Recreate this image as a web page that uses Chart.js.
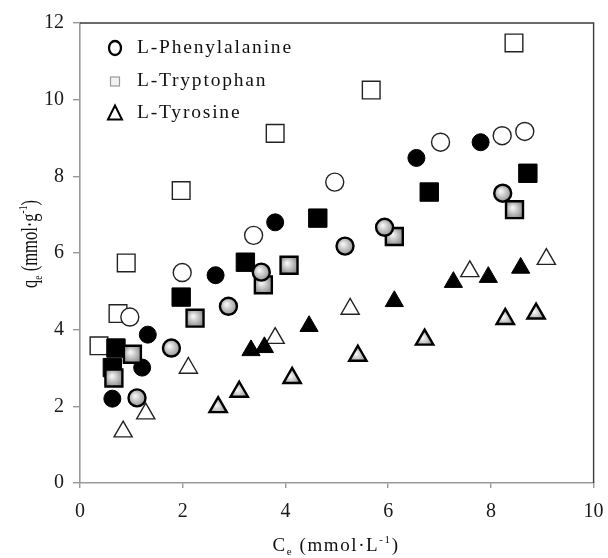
<!DOCTYPE html>
<html lang="en">
<head>
<meta charset="UTF-8">
<title>Amino acid adsorption</title>
<script src="https://cdn.jsdelivr.net/npm/chart.js@4.4.1/dist/chart.umd.min.js"></script>
<style>
  body { margin: 0; background: #fff; }
  canvas { display: block; }
</style>
</head>
<body>
<canvas id="chart" width="608" height="558"></canvas>
<script>
// tick labels
const xTicks = [0, 2, 4, 6, 8, 10];
const yTicks = [0, 2, 4, 6, 8, 10, 12];

// L-Phenylalanine (circles): open, filled, gray
const pheOpenX = [0.97, 1.99, 3.38, 4.96, 7.02, 8.22, 8.66];
const pheOpenY = [4.33, 5.49, 6.46, 7.85, 8.89, 9.06, 9.17];
const pheFilledX = [0.63, 1.21, 1.32, 2.64, 3.80, 6.55, 7.80];
const pheFilledY = [2.20, 3.01, 3.87, 5.42, 6.80, 8.48, 8.89];
const pheGrayX = [1.11, 1.78, 2.89, 3.53, 5.16, 5.93, 8.23];
const pheGrayY = [2.22, 3.52, 4.61, 5.50, 6.18, 6.67, 7.56];

// L-Tryptophan (squares)
const trpOpenX = [0.37, 0.74, 0.90, 1.97, 3.80, 5.67, 8.45];
const trpOpenY = [3.58, 4.42, 5.74, 7.63, 9.12, 10.25, 11.48];
const trpFilledX = [0.63, 0.70, 1.97, 3.22, 4.63, 6.80, 8.72];
const trpFilledY = [3.01, 3.52, 4.85, 5.76, 6.91, 7.59, 8.08];
const trpGrayX = [0.66, 1.02, 2.24, 3.57, 4.07, 6.12, 8.46];
const trpGrayY = [2.74, 3.36, 4.30, 5.17, 5.68, 6.43, 7.13];

// L-Tyrosine (triangles)
const tyrOpenX = [0.84, 1.28, 2.11, 3.80, 5.26, 7.59, 9.08];
const tyrOpenY = [1.34, 1.81, 3.00, 3.78, 4.54, 5.52, 5.84];
const tyrFilledX = [3.33, 3.59, 4.46, 6.12, 7.27, 7.95, 8.58];
const tyrFilledY = [3.46, 3.54, 4.09, 4.74, 5.24, 5.37, 5.61];
const tyrGrayX = [2.69, 3.10, 4.13, 5.41, 6.71, 8.28, 8.88];
const tyrGrayY = [1.98, 2.38, 2.74, 3.32, 3.74, 4.28, 4.42];

const legendNames = ['L-Phenylalanine', 'L-Tryptophan', 'L-Tyrosine'];

function pts(xs, ys) {
    return xs.map((x, i) => ({ x: x, y: ys[i] }));
}

// shaded gray fill, lighter in the middle
function grayFill(context) {
    const chart = context.chart;
    if (context.type !== 'data' || !chart.chartArea) return '#aaaaaa';
    const px = chart.scales.x.getPixelForValue(context.raw.x);
    const py = chart.scales.y.getPixelForValue(context.raw.y);
    const g = chart.ctx.createRadialGradient(px - 2, py - 2, 1, px, py, 11);
    g.addColorStop(0, '#f2f2f2');
    g.addColorStop(1, '#7c7c7c');
    return g;
}

function openSet(data, style, r) {
    return { data, pointStyle: style, pointRadius: r, backgroundColor: '#ffffff',
        borderColor: '#222222', pointBorderWidth: 1.4 };
}
function filledSet(data, style, r) {
    return { data, pointStyle: style, pointRadius: r, backgroundColor: '#000000',
        borderColor: '#000000', pointBorderWidth: 1 };
}
function graySet(data, style, r) {
    return { data, pointStyle: style, pointRadius: r, backgroundColor: grayFill,
        borderColor: '#000000', pointBorderWidth: 2.4 };
}

const datasets = [
    graySet(pts(tyrGrayX, tyrGrayY), 'triangle', 10),
    filledSet(pts(tyrFilledX, tyrFilledY), 'triangle', 10.5),
    openSet(pts(tyrOpenX, tyrOpenY), 'triangle', 10.5),
    graySet(pts(pheGrayX, pheGrayY), 'circle', 8.5),
    graySet(pts(trpGrayX, trpGrayY), 'rect', 12),
    filledSet(pts(pheFilledX, pheFilledY), 'circle', 8.5),
    filledSet(pts(trpFilledX, trpFilledY), 'rect', 13),
    openSet(pts(pheOpenX, pheOpenY), 'circle', 9),
    openSet(pts(trpOpenX, trpOpenY), 'rect', 12.5)
];

const serif = "'Liberation Serif', 'Times New Roman', serif";

// draw text pieces with sub/superscripts
function drawRich(ctx, parts, x, y, size) {
    let cx = x;
    parts.forEach(p => {
        const small = p.sub || p.sup;
        ctx.font = (small ? Math.round(size * 0.58) : size) + 'px ' + serif;
        const dy = p.sub ? size * 0.22 : (p.sup ? -size * 0.42 : 0);
        ctx.fillText(p.t, cx, y + dy);
        cx += ctx.measureText(p.t).width;
    });
    return cx - x;
}
function richWidth(ctx, parts, size) {
    let w = 0;
    parts.forEach(p => {
        const small = p.sub || p.sup;
        ctx.font = (small ? Math.round(size * 0.58) : size) + 'px ' + serif;
        w += ctx.measureText(p.t).width;
    });
    return w;
}

const decorPlugin = {
    id: 'decor',
    afterDraw(chart) {
        const ctx = chart.ctx;
        const a = chart.chartArea;
        ctx.save();
        // top and right frame
        ctx.strokeStyle = '#3a3a3a';
        ctx.lineWidth = 1.4;
        ctx.beginPath();
        ctx.moveTo(a.left, a.top);
        ctx.lineTo(a.right, a.top);
        ctx.lineTo(a.right, a.bottom);
        ctx.stroke();

        // legend
        ctx.fillStyle = '#111';
        ctx.textBaseline = 'middle';
        ctx.textAlign = 'left';
        ctx.letterSpacing = '1.8px';
        ctx.font = '19.5px ' + serif;
        const rows = [48, 81, 113];
        legendNames.forEach((name, i) => ctx.fillText(name, 137, rows[i]));
        ctx.letterSpacing = '0px';
        // marker keys
        ctx.strokeStyle = '#000';
        ctx.lineWidth = 2.3;
        ctx.beginPath();
        ctx.ellipse(115, rows[0], 6, 7, 0, 0, Math.PI * 2);
        ctx.stroke();
        ctx.beginPath();
        ctx.moveTo(115, rows[2] - 7.5);
        ctx.lineTo(122, rows[2] + 6.5);
        ctx.lineTo(108, rows[2] + 6.5);
        ctx.closePath();
        ctx.lineWidth = 2;
        ctx.stroke();
        ctx.fillStyle = '#f2f2f2';
        ctx.strokeStyle = '#9a9a9a';
        ctx.lineWidth = 1.2;
        ctx.fillRect(110.5, rows[1] - 4, 9, 9);
        ctx.strokeRect(110.5, rows[1] - 4, 9, 9);

        // axis titles
        ctx.fillStyle = '#111';
        ctx.textAlign = 'left';
        ctx.textBaseline = 'alphabetic';
        ctx.letterSpacing = '1.6px';
        const xt = [{ t: 'C' }, { t: 'e', sub: true }, { t: ' (mmol\u00b7L' }, { t: '-1', sup: true }, { t: ')' }];
        const xw = richWidth(ctx, xt, 19);
        drawRich(ctx, xt, 336 - xw / 2, 551, 19);

        ctx.letterSpacing = '0px';
        const yt = [{ t: 'q' }, { t: 'e', sub: true }, { t: ' (mmol\u00b7g' }, { t: '-1', sup: true }, { t: ')' }];
        const yw = richWidth(ctx, yt, 19);
        ctx.translate(37, 244);
        ctx.rotate(-Math.PI / 2);
        ctx.scale(0.87, 1.22);
        drawRich(ctx, yt, -yw / 2, 0, 19);
        ctx.restore();
    }
};

new Chart(document.getElementById('chart'), {
    type: 'scatter',
    data: { datasets },
    options: {
        responsive: false,
        animation: false,
        events: [],
        layout: { padding: { top: 23, right: 12, left: 0, bottom: 0 } },
        plugins: { legend: { display: false }, tooltip: { enabled: false } },
        scales: {
            x: {
                type: 'linear',
                min: 0,
                max: 10,
                afterFit: s => { s.height = 75; s.paddingRight = 0; s.paddingLeft = 0; },
                afterBuildTicks: s => { s.ticks = xTicks.map(v => ({ value: v })); },
                ticks: { color: '#1a1a1a', font: { family: serif, size: 20 }, padding: 12, maxRotation: 0 },
                grid: { drawOnChartArea: false, drawTicks: true, tickLength: 5, color: '#999999', lineWidth: 1.4 },
                border: { color: '#999999', width: 1.6 }
            },
            y: {
                type: 'linear',
                min: 0,
                max: 12,
                afterFit: s => { s.width = 80; s.paddingTop = 0; s.paddingBottom = 0; },
                afterBuildTicks: s => { s.ticks = yTicks.map(v => ({ value: v })); },
                ticks: { color: '#1a1a1a', font: { family: serif, size: 20 }, padding: 9 },
                grid: { drawOnChartArea: false, drawTicks: true, tickLength: 7, color: '#999999', lineWidth: 1.4 },
                border: { color: '#999999', width: 1.6 }
            }
        }
    },
    plugins: [decorPlugin]
});
</script>
</body>
</html>
